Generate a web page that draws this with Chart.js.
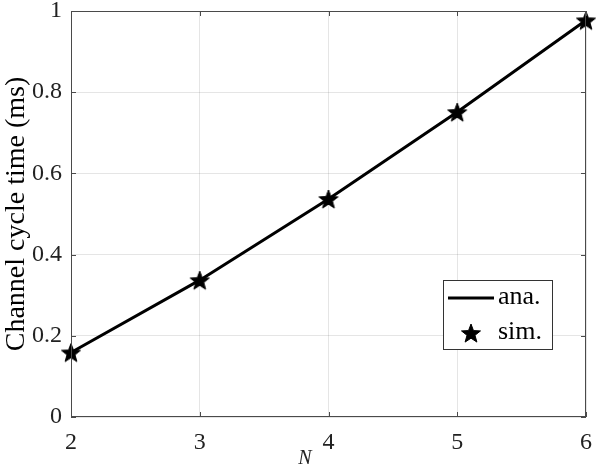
<!DOCTYPE html>
<html>
<head>
<meta charset="utf-8">
<script src="https://cdn.jsdelivr.net/npm/chart.js@4.4.1/dist/chart.umd.min.js"></script>
<style>
  html, body { margin: 0; padding: 0; background: #fff; }
  #wrap { width: 598px; height: 472px; }
</style>
</head>
<body>
<div id="wrap"><canvas id="c" width="598" height="472"></canvas></div>
<script>
// --- DATA ---
const nValues = [2, 3, 4, 5, 6];
const anaValues = [0.159, 0.337, 0.537, 0.751, 0.977];
const simValues = [0.159, 0.337, 0.537, 0.751, 0.977];
const xTicks = [2, 3, 4, 5, 6];
const yTicks = [0, 0.2, 0.4, 0.6, 0.8, 1];

const FONT = "'Liberation Serif', 'Times New Roman', serif";
const AXIS_COLOR = '#4a4a4a';

// filled five-point star, used as point style
const makeStar = (r) => {
    const cv = document.createElement('canvas');
    const s = Math.ceil(r * 2 + 4);
    cv.width = s; cv.height = s;
    const g = cv.getContext('2d');
    g.translate(s / 2, s / 2 + r * 0.1);
    g.beginPath();
    for (let i = 0; i < 10; i++) {
        const rad = i % 2 === 0 ? r : r * 0.42;
        const a = -Math.PI / 2 + i * Math.PI / 5;
        g.lineTo(rad * Math.cos(a), rad * Math.sin(a));
    }
    g.closePath();
    g.fillStyle = '#000';
    g.fill();
    g.lineWidth = 1;
    g.strokeStyle = '#000';
    g.stroke();
    return cv;
};
const star = makeStar(10);

// box, inner ticks, x label and legend like the original figure
const boxPlugin = {
    id: 'box',
    afterDraw(chart) {
        const { ctx, chartArea: a, scales } = chart;
        ctx.save();
        ctx.strokeStyle = AXIS_COLOR;
        ctx.lineWidth = 1;
        ctx.strokeRect(a.left + 0.5, a.top + 0.5, a.right - a.left - 1, a.bottom - a.top - 1);
        ctx.beginPath();
        xTicks.forEach(v => {
            const x = Math.round(scales.x.getPixelForValue(v)) + 0.5;
            ctx.moveTo(x, a.bottom); ctx.lineTo(x, a.bottom - 5);
            ctx.moveTo(x, a.top); ctx.lineTo(x, a.top + 5);
        });
        yTicks.forEach(v => {
            const y = Math.round(scales.y.getPixelForValue(v)) + 0.5;
            ctx.moveTo(a.left, y); ctx.lineTo(a.left + 5, y);
            ctx.moveTo(a.right, y); ctx.lineTo(a.right - 5, y);
        });
        ctx.stroke();

        // x axis label
        ctx.fillStyle = '#222';
        ctx.font = 'italic 20px ' + FONT;
        ctx.textAlign = 'center';
        ctx.textBaseline = 'middle';
        ctx.fillText('N', 305, 459);

        // legend
        const lx = 443, ly = 280, lw = 109, lh = 69;
        ctx.fillStyle = '#fff';
        ctx.fillRect(lx, ly, lw, lh);
        ctx.strokeStyle = '#333';
        ctx.strokeRect(lx + 0.5, ly + 0.5, lw, lh);
        ctx.strokeStyle = '#000';
        ctx.lineWidth = 3;
        ctx.beginPath();
        ctx.moveTo(448, 298); ctx.lineTo(494, 298);
        ctx.stroke();
        ctx.drawImage(star, 471 - star.width / 2, 333 - star.height / 2);
        ctx.fillStyle = '#000';
        ctx.font = '26px ' + FONT;
        ctx.textAlign = 'left';
        ctx.fillText('ana.', 498, 297);
        ctx.fillText('sim.', 498, 332);
        ctx.restore();
    }
};

const ctx = document.getElementById('c').getContext('2d');
new Chart(ctx, {
    type: 'line',
    data: {
        datasets: [
            {
                label: 'ana.',
                data: nValues.map((n, i) => ({ x: n, y: anaValues[i] })),
                borderColor: '#000',
                borderWidth: 3,
                pointRadius: 0,
                tension: 0,
                fill: false,
                clip: false
            },
            {
                label: 'sim.',
                data: nValues.map((n, i) => ({ x: n, y: simValues[i] })),
                showLine: false,
                pointStyle: star,
                pointRadius: 10,
                borderColor: '#000',
                backgroundColor: '#000',
                clip: false
            }
        ]
    },
    options: {
        responsive: false,
        animation: false,
        layout: { padding: { left: 0, right: 12, top: 11, bottom: 0 } },
        plugins: { legend: { display: false }, tooltip: { enabled: false } },
        scales: {
            x: {
                type: 'linear',
                min: 2, max: 6,
                afterBuildTicks: s => { s.ticks = xTicks.map(v => ({ value: v })); },
                afterFit: s => { s.height = 55; s.paddingLeft = 0; s.paddingRight = 0; },
                grid: { color: 'rgba(0,0,0,0.1)', drawTicks: false },
                border: { display: false },
                ticks: {
                    color: '#222',
                    padding: 11,
                    font: { family: FONT, size: 24 }
                }
            },
            y: {
                type: 'linear',
                min: 0, max: 1,
                afterBuildTicks: s => { s.ticks = yTicks.map(v => ({ value: v })); },
                afterFit: s => { s.width = 71; s.paddingTop = 0; s.paddingBottom = 0; },
                grid: { color: 'rgba(0,0,0,0.1)', drawTicks: false },
                border: { display: false },
                ticks: {
                    color: '#222',
                    padding: 9,
                    font: { family: FONT, size: 24 },
                    callback: v => String(Math.round(v * 10) / 10)
                },
                title: {
                    display: true,
                    text: 'Channel cycle time (ms)',
                    color: '#000',
                    padding: { top: 0, bottom: 0 },
                    font: { family: FONT, size: 28 }
                }
            }
        }
    },
    plugins: [boxPlugin]
});
</script>
</body>
</html>
